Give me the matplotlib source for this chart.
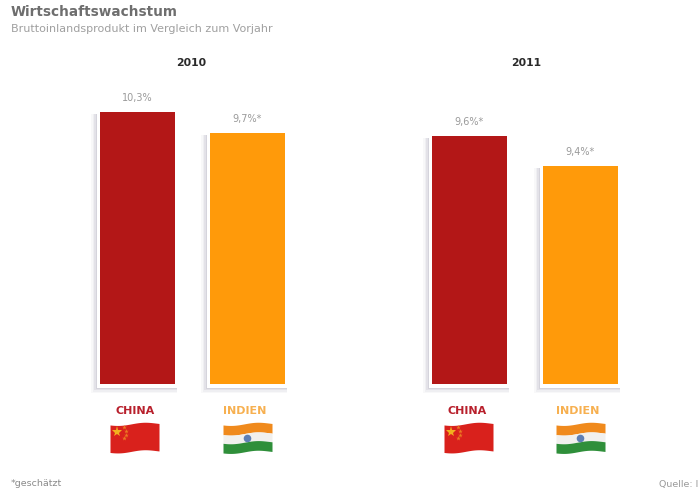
import matplotlib.pyplot as plt
import numpy as np
from matplotlib.patches import Circle

W, H = 698, 493

years = ['2010', '2011']
countries = ['CHINA', 'INDIEN', 'CHINA', 'INDIEN']
labels = ['10,3%', '9,7%*', '9,6%*', '9,4%*']
# drawn height of the bars (not proportional to the labels)
bar_heights = [10.3, 9.5, 9.4, 8.25]

PX_PER_UNIT = 26.4
BASE_Y = 384
bar_lefts = [100, 210, 432, 543]
BAR_W = 74.5
COLORS = {'CHINA': '#b31717', 'INDIEN': '#ff9a0a'}
LABEL_COLORS = {'CHINA': '#b8202c', 'INDIEN': '#f7b050'}

fig = plt.figure(figsize=(W / 100, H / 100), dpi=100, facecolor='white')

# bars: x in pixels, y in value units with the baseline at BASE_Y
ax = fig.add_axes([0, 0, 1, 1])
ax.set_xlim(0, W)
ax.set_ylim(-(H - BASE_Y) / PX_PER_UNIT, BASE_Y / PX_PER_UNIT)
ax.axis('off')

# overlay in pixel coordinates for text and flags
ov = fig.add_axes([0, 0, 1, 1])
ov.set_xlim(0, W)
ov.set_ylim(H, 0)
ov.axis('off')
ov.patch.set_alpha(0)


def draw_bar(left, height, color):
    # soft shadow to the left and below, then white frame, then bar
    for grow, alpha in [(9, 0.06), (7.5, 0.08), (6, 0.12), (4.5, 0.16)]:
        ax.bar(left - grow, height - 2 / PX_PER_UNIT + grow / PX_PER_UNIT, BAR_W + grow + 2,
               bottom=-grow / PX_PER_UNIT, align='edge', color='#8f8ba3', alpha=alpha, linewidth=0)
    ax.bar(left - 3, height + 5 / PX_PER_UNIT, BAR_W + 5, bottom=-3.5 / PX_PER_UNIT,
           align='edge', color='white', linewidth=0)
    ax.bar(left, height, BAR_W, align='edge', color=color, linewidth=0)


def wave(x, x0, w):
    return 1.2 * np.sin((x - x0) / w * 2 * np.pi + 0.4)


def draw_china_flag(x0, y0=423.5, w=49, h=29):
    x = np.linspace(x0, x0 + w, 60)
    slant = (x - x0) / w * -1.5
    ov.fill_between(x, y0 + wave(x, x0, w) + slant + 1, y0 + h + wave(x, x0, w) + slant - 0.5,
                    color='#d9211c', linewidth=0)
    ov.plot([x0 + 7], [y0 + 8], marker='*', ms=8, color='#f2b01e', mew=0)
    for dx, dy in [(14, 3), (16, 7), (16, 11), (14, 14)]:
        ov.plot([x0 + dx], [y0 + dy], marker='*', ms=3.5, color='#ec7a22', mew=0)


def draw_india_flag(x0, y0=423.5, w=49, h=29):
    x = np.linspace(x0, x0 + w, 60)
    slant = (x - x0) / w * -1.5
    ww = wave(x, x0, w) + slant
    ov.fill_between(x, y0 + ww + 1, y0 + ww + h / 3 + 1, color='#f08a1d', linewidth=0)
    ov.fill_between(x, y0 + ww + h / 3 + 1, y0 + ww + 2 * h / 3, color='#f1f0ee', linewidth=0)
    ov.fill_between(x, y0 + ww + 2 * h / 3, y0 + ww + h, color='#2f8f3a', linewidth=0)
    ov.add_patch(Circle((x0 + w / 2, y0 + h / 2 + 0.5), 3.8, facecolor='#5f7fb5', edgecolor='none'))


for left, height, country, label in zip(bar_lefts, bar_heights, countries, labels):
    draw_bar(left, height, COLORS[country])
    cx = left + BAR_W / 2
    ax.text(cx, height + 9 / PX_PER_UNIT, label, ha='center', va='bottom', fontsize=7, color='#9a9a9a')
    ov.text(cx - 2.5, 411, country, ha='center', va='center', fontsize=8, fontweight='bold',
            color=LABEL_COLORS[country])

for x0 in [110, 444]:
    draw_china_flag(x0)
for x0 in [223, 556]:
    draw_india_flag(x0)

ov.text(11, 12.5, 'Wirtschaftswachstum', ha='left', va='center', fontsize=9.85, fontweight='bold', color='#6e6e6e')
ov.text(11, 29, 'Bruttoinlandsprodukt im Vergleich zum Vorjahr', ha='left', va='center', fontsize=8, color='#a0a0a0')
for year, x in zip(years, [191, 526]):
    ov.text(x, 62.5, year, ha='center', va='center', fontsize=7.8, fontweight='bold', color='#2a2a2a')
ov.text(11, 484, '*geschätzt', ha='left', va='center', fontsize=6.8, color='#8a8a8a')
ov.text(659, 485, 'Quelle: I', ha='left', va='center', fontsize=6.8, color='#9a9a9a')

fig.savefig('out.png', dpi=100, facecolor='white')
